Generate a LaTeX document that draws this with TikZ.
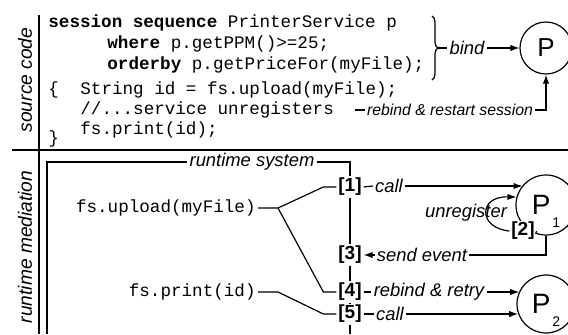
\documentclass[tikz,border=0pt]{standalone}
\usepackage{fontspec}
\setmainfont{Liberation Sans}
\setmonofont{Liberation Mono}
\usepackage{tikz}
\usetikzlibrary{calc, positioning, arrows.meta, decorations.pathreplacing}

\tikzset{
    conn/.style={line width=0.6pt},
    arr/.style={conn, -{Latex[length=4.5pt, width=3.2pt]}},
    frame/.style={line width=1.1pt},
    code/.style={anchor=base west, inner sep=0pt, font=\fontsize{8.8}{10}\selectfont\ttfamily},
    lbl/.style={inner sep=1pt, font=\fontsize{9.2}{10}\selectfont\itshape},
    side/.style={rotate=90, font=\fontsize{9.6}{10}\selectfont\itshape},
    stepno/.style={fill=white, inner sep=0.8pt, font=\fontsize{9.5}{10}\selectfont\bfseries},
    proc/.style={draw, circle, line width=0.6pt, inner sep=0pt},
}

\begin{document}
\begin{tikzpicture}[x=0.5pt, y=-0.5pt]
    \useasboundingbox (0,0) rectangle (568,334);
    % margins and rules
    \node[side] (src) at (25,80) {source code};
    \node[side] (med) at (25,247) {runtime mediation};
    \draw[conn] (39,15) -- (39,334);
    \draw[conn] (12,150) -- (568,150);

    % source code
    \node[code] (l1) at (48,27) {\textbf{session sequence} PrinterService p};
    \node[code] (l2) at (107,48) {\textbf{where} p.getPPM()>=25;};
    \node[code] (l3) at (107,69) {\textbf{orderby} p.getPriceFor(myFile);};
    \node[code] (lbr) at (48,94) {\{};
    \node[code] (l4) at (80,94) {String id = fs.upload(myFile);};
    \node[code] (l5) at (80,114) {//...service unregisters};
    \node[code] (l6) at (80,134) {fs.print(id);};
    \node[code] (rbr) at (48,143) {\}};

    \node[proc, minimum size=26pt, font=\fontsize{13}{13}\selectfont] (ptop) at (546,48) {P};
    \draw[conn, decorate, decoration={brace, amplitude=3pt}] (432,16) -- (432,80);
    \coordinate (brtip) at (438,48);
    \node[lbl] (bind) at (467,48) {bind};
    \draw[conn] (brtip) -- (bind.west);
    \draw[arr] (bind.east) -- (bind.east -| ptop.west);
    \coordinate (unreg) at (355,110);
    \node[lbl, font=\fontsize{7.9}{9}\selectfont\itshape] (rebind) at (450,110) {rebind \& restart session};
    \draw[conn] (unreg) -- (rebind.west);
    \draw[arr] (rebind.east) -| (ptop.south);

    % runtime system
    \node[lbl] (rts) at (252,162) {runtime system};
    \node[stepno] (n1) at (350,187) {[1]};
    \node[stepno] (n3) at (350,255) {[3]};
    \node[stepno] (n4) at (350,292) {[4]};
    \node[stepno] (n5) at (350,314) {[5]};
    \coordinate (bot) at (47,334);
    \draw[frame] (bot) |- (rts.west);
    \draw[frame] (rts.east) -| (n1.north);
    \draw[frame] (n1.south) -- (n3.north);
    \draw[frame] (n3.south) -- (n4.north);
    \draw[frame] (n4.south) -- (n5.north);
    \draw[frame] (n5.south) -- (n5 |- bot);

    \node[code, anchor=east, inner sep=1pt] (upl) at (258,208) {fs.upload(myFile)};
    \node[code, anchor=east, inner sep=1pt] (prt) at (258,292) {fs.print(id)};
    \draw[conn] (upl.east) -- ++(20,0) coordinate (forkA) -- ($(n1.west)+(-13,0)$) -- (n1.west);
    \draw[conn] (forkA) -- ($(n4.west)+(-13,0)$) -- (n4.west);
    \draw[conn] (prt.east) -- ++(20,0) -- ($(n5.west)+(-13,0)$) -- (n5.west);

    \node[proc, minimum size=30pt, font=\fontsize{14}{14}\selectfont] (p1) at (546,205)
        {P\hspace{1pt}\raisebox{-6.5pt}[0pt][0pt]{\fontsize{7}{7}\selectfont 1}};
    \node[proc, minimum size=29pt, font=\fontsize{14}{14}\selectfont] (p2) at (546,304)
        {P\hspace{1pt}\raisebox{-6.5pt}[0pt][0pt]{\fontsize{7}{7}\selectfont 2}};
    \node[stepno] (n2) at (523,231) {[2]};

    \node[lbl] (call1) at (389,186) {call};
    \node[lbl] (unregl) at (466,213) {unregister};
    \node[lbl] (sendev) at (422,255) {send event};
    \node[lbl] (retry) at (429,292) {rebind \& retry};
    \node[lbl] (call2) at (390,314) {call};

    \draw[conn] (n1.east) -- (call1.west);
    \draw[arr] (call1.east) -- (call1.east -| p1.140);
    \draw[conn] (n2.east) -- (p1.250);
    \draw[arr] (n2.west) .. controls (478,228) and (478,196) .. (p1.165);
    \draw[conn] (p1.south) |- (sendev.east);
    \draw[arr] (sendev.west) -- (n3.east);
    \draw[conn] (n4.east) -- (retry.west);
    \draw[arr] (retry.east) -- (retry.east -| p2.155);
    \draw[conn] (n5.east) -- (call2.west);
    \draw[arr] (call2.east) -- (call2.east -| p2.200);
\end{tikzpicture}
\end{document}
